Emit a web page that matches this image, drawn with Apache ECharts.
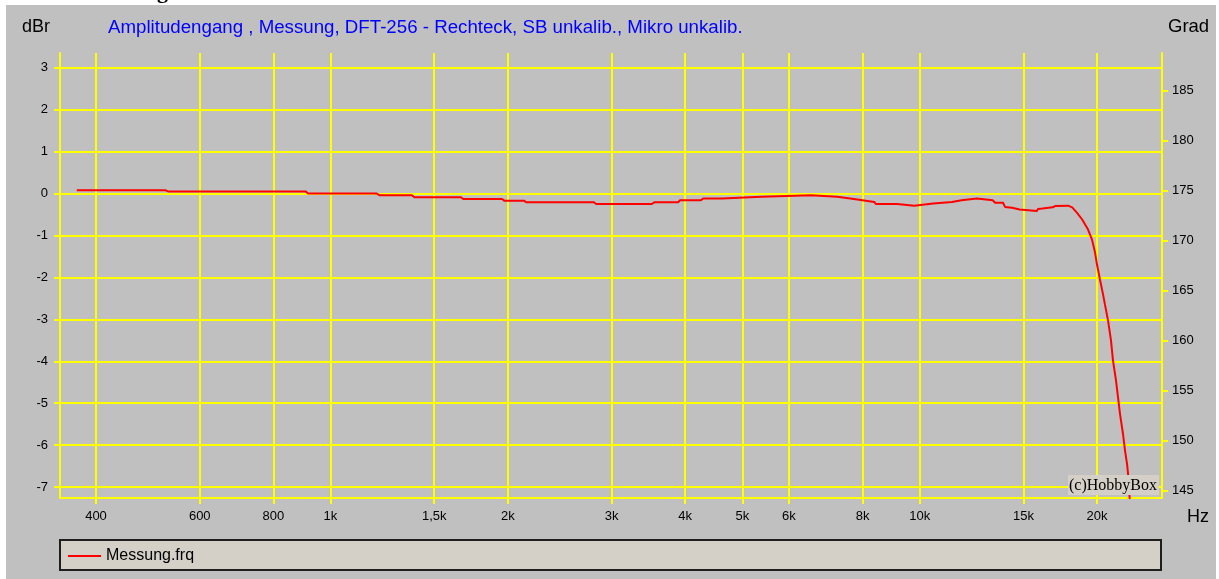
<!DOCTYPE html>
<html><head><meta charset="utf-8">
<script src="https://cdn.jsdelivr.net/npm/echarts@6/dist/echarts.min.js"></script>
<style>html,body{margin:0;padding:0;background:#fff}#c{width:1219px;height:579px}</style>
</head><body><div id="c"></div>
<script>
// ---- data ----
const freqHz = [371, 524, 530, 908, 916, 1198, 1210, 1375, 1388, 1665, 1680, 1955, 1972, 2130, 2148, 2800, 2825,
  3510, 3545, 3890, 3920, 4255, 4290, 4620, 4655, 5380, 5420, 6540, 6590, 7245, 7295, 7625, 7670, 7995, 8040,
  8375, 8425, 9160, 9215, 9790, 9850, 10540, 10620, 11350, 11400, 11780, 11820, 12500, 12560, 13300, 13430,
  13850, 13960, 14350, 14450, 14780, 14850, 15800, 15880, 16150, 16220, 16820, 16970, 17860, 18150, 18500,
  18870, 19310, 19610, 19840, 20000, 20230, 20470, 20630, 20880, 21120, 21290, 21540, 21710, 21880, 22140,
  22310, 22490, 22580, 22750];
const dBr = [0.08, 0.08, 0.05, 0.05, 0.0, 0.0, -0.04, -0.04, -0.09, -0.09, -0.13, -0.13, -0.17, -0.17, -0.21, -0.21, -0.25,
  -0.25, -0.21, -0.21, -0.16, -0.16, -0.12, -0.12, -0.08, -0.08, -0.04, -0.04, -0.08, -0.08, -0.12, -0.12, -0.16, -0.16, -0.20,
  -0.20, -0.25, -0.25, -0.29, -0.29, -0.25, -0.24, -0.20, -0.20, -0.16, -0.16, -0.12, -0.12, -0.16, -0.16, -0.22,
  -0.22, -0.32, -0.34, -0.38, -0.38, -0.42, -0.42, -0.37, -0.36, -0.33, -0.33, -0.30, -0.29, -0.33, -0.46,
  -0.62, -0.86, -1.10, -1.40, -1.70, -2.05, -2.40, -2.65, -3.03, -3.50, -3.99, -4.46, -4.86, -5.26, -5.74,
  -6.13, -6.45, -6.69, -7.40];
const xTickHz = [400, 600, 800, 1000, 1500, 2000, 3000, 4000, 5000, 6000, 8000, 10000, 15000, 20000];
const xTickLabels = ['400', '600', '800', '1k', '1,5k', '2k', '3k', '4k', '5k', '6k', '8k', '10k', '15k', '20k'];
const dBrTicks = [-7, -6, -5, -4, -3, -2, -1, 0, 1, 2, 3];
const gradTicks = [145, 150, 155, 160, 165, 170, 175, 180, 185];
const seriesName = 'Messung.frq';
const titleText = 'Amplitudengang , Messung, DFT-256 - Rechteck, SB unkalib., Mikro unkalib.';
const leftAxisName = 'dBr';
const rightAxisName = 'Grad';
const xAxisName = 'Hz';
const copyright = '(c)HobbyBox';

// ---- build ----
const FONT = '"Liberation Sans", Arial, sans-serif';
const SERIF = '"Liberation Serif", "Times New Roman", serif';
const YEL = '#ffff00';
const xMin = Math.log10(347.5), xMax = Math.log10(25780);
const xTickLog = xTickHz.map(v => Math.log10(v));
function xLabel(v) {
  for (let i = 0; i < xTickLog.length; i++) if (Math.abs(xTickLog[i] - v) < 1e-6) return xTickLabels[i];
  return '';
}
const seriesData = freqHz.map((f, i) => [Math.log10(f), dBr[i]]);
const lbl = { color: '#000', fontSize: 13, fontFamily: FONT };
const yl = { color: YEL, width: 2 };

const chart = echarts.init(document.getElementById('c'), null, { renderer: 'canvas' });
chart.setOption({
  animation: false,
  backgroundColor: '#ffffff',
  grid: { left: 60, right: 57, top: 53, bottom: 81 },
  xAxis: {
    type: 'value', min: xMin, max: xMax,
    axisLine: { show: true, onZero: false, lineStyle: yl },
    axisTick: { show: true, customValues: xTickLog, length: 6, lineStyle: yl },
    axisLabel: Object.assign({ customValues: xTickLog, formatter: xLabel, margin: 12 }, lbl),
    splitLine: { show: true, lineStyle: yl }
  },
  yAxis: [{
    type: 'value', min: -7.26, max: 3.35,
    axisLine: { show: true, onZero: false, lineStyle: yl },
    axisTick: { show: true, customValues: dBrTicks, length: 6, lineStyle: yl },
    axisLabel: Object.assign({ customValues: dBrTicks, margin: 12 }, lbl),
    splitLine: { show: true, lineStyle: yl }
  }, {
    type: 'value', position: 'right', min: 144.23, max: 188.78,
    axisLine: { show: true, onZero: false, lineStyle: yl },
    axisTick: { show: true, customValues: gradTicks, length: 6, lineStyle: yl },
    axisLabel: Object.assign({ customValues: gradTicks, margin: 10 }, lbl),
    splitLine: { show: false }
  }],
  legend: {
    data: [{ name: seriesName, icon: 'rect' }],
    left: 68, top: 548, padding: 0, itemWidth: 33, itemHeight: 2,
    textStyle: { fontSize: 16, fontFamily: FONT, color: '#000' }
  },
  series: [{
    name: seriesName, type: 'line', yAxisIndex: 0, data: seriesData,
    showSymbol: false, symbol: 'none', clip: true,
    lineStyle: { color: '#ff0000', width: 2 }, itemStyle: { color: '#ff0000' }
  }],
  graphic: { elements: [
    { type: 'rect', z: -10, silent: true, shape: { x: 6, y: 5, width: 1210, height: 574 }, style: { fill: '#c0c0c0' } },
    { type: 'text', z: -5, silent: true, x: 157, y: 3, style: { text: 'g', font: 'bold 22px ' + SERIF, fill: '#000', textAlign: 'left', textVerticalAlign: 'bottom', verticalAlign: 'bottom' } },
    { type: 'text', z: 5, silent: true, x: 108, y: 28, style: { text: titleText, font: '18.7px ' + FONT, fill: '#0000ff', textAlign: 'left', textVerticalAlign: 'middle', verticalAlign: 'middle' } },
    { type: 'text', z: 5, silent: true, x: 22, y: 27, style: { text: leftAxisName, font: '18px ' + FONT, fill: '#000', textAlign: 'left', textVerticalAlign: 'middle', verticalAlign: 'middle' } },
    { type: 'text', z: 5, silent: true, x: 1168, y: 27, style: { text: rightAxisName, font: '18.5px ' + FONT, fill: '#000', textAlign: 'left', textVerticalAlign: 'middle', verticalAlign: 'middle' } },
    { type: 'text', z: 5, silent: true, x: 1187, y: 517, style: { text: xAxisName, font: '18px ' + FONT, fill: '#000', textAlign: 'left', textVerticalAlign: 'middle', verticalAlign: 'middle' } },
    { type: 'rect', z: 3, silent: true, shape: { x: 60, y: 540, width: 1101, height: 30 }, style: { fill: '#d4d0c8', stroke: '#1e1e1e', lineWidth: 2 } },
    { type: 'rect', z: 10, silent: true, shape: { x: 1068, y: 475, width: 91, height: 20 }, style: { fill: '#d4d0c8' } },
    { type: 'text', z: 11, silent: true, x: 1113, y: 486, style: { text: copyright, font: '16px ' + SERIF, fill: '#000', textAlign: 'center', textVerticalAlign: 'middle', verticalAlign: 'middle' } }
  ] }
});
</script></body></html>
